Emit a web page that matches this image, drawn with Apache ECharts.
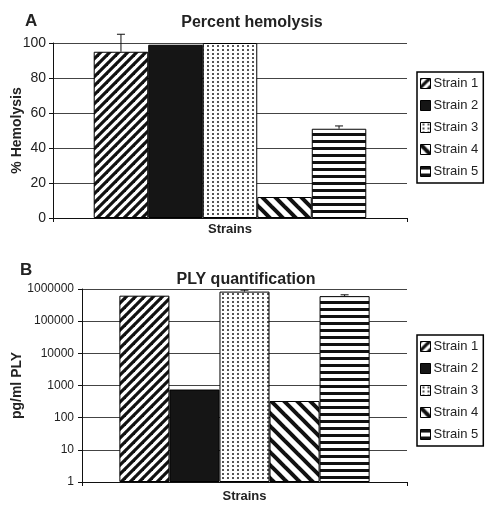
<!DOCTYPE html>
<html><head><meta charset="utf-8">
<script src="https://cdn.jsdelivr.net/npm/echarts@6/dist/echarts.min.js"></script>
<style>html,body{margin:0;padding:0;background:#fff}#c{width:487px;height:506px}</style>
</head><body><div id="c"></div>
<script>
const categories = ['Strains'];
const strainNames = ['Strain 1', 'Strain 2', 'Strain 3', 'Strain 4', 'Strain 5'];
const hemolysis = [95, 99, 100, 12, 51];
const hemolysisUpper = [105, null, null, null, 52.6];
const plyValues = [620000, 750, 830000, 330, 600000];
const plyUpper = [null, null, 920000, null, 660000];
const hemoTicks = [0, 20, 40, 60, 80, 100];
const plyTicks = [1, 10, 100, 1000, 10000, 100000, 1000000];

function makeCanvas(w, h, draw) {
  const c = document.createElement('canvas');
  c.width = w; c.height = h;
  const g = c.getContext('2d');
  g.fillStyle = '#fff'; g.fillRect(0, 0, w, h);
  draw(g, w, h);
  return c;
}
function diagUp(size, lw) {
  return makeCanvas(size, size, (g, w) => {
    g.strokeStyle = '#111'; g.lineWidth = lw;
    for (let k = -1; k <= 1; k++) {
      g.beginPath(); g.moveTo(k * w - 2, w + 2); g.lineTo(k * w + w + 2, -2); g.stroke();
    }
  });
}
function diagDown(size, lw) {
  return makeCanvas(size, size, (g, w) => {
    g.strokeStyle = '#111'; g.lineWidth = lw;
    for (let k = -1; k <= 1; k++) {
      g.beginPath(); g.moveTo(k * w - 2, -2); g.lineTo(k * w + w + 2, w + 2); g.stroke();
    }
  });
}
function dots() {
  return makeCanvas(5, 4, (g) => { g.fillStyle = '#555'; g.fillRect(2, 1, 2, 2); });
}
function hstripes() {
  return makeCanvas(8, 7, (g) => { g.fillStyle = '#111'; g.fillRect(0, 0, 8, 3); });
}
const fills = [
  { image: diagUp(9, 3.2), repeat: 'repeat' },
  '#151515',
  { image: dots(), repeat: 'repeat' },
  { image: diagDown(13, 4), repeat: 'repeat' },
  { image: hstripes(), repeat: 'repeat' }
];

const FONT = 'Liberation Sans, Arial, sans-serif';
const GAP = 0.23;

function barSeries(values, gi) {
  return values.map((v, i) => ({
    name: strainNames[i], type: 'bar', xAxisIndex: gi, yAxisIndex: gi,
    data: [v], barGap: '0%', barCategoryGap: (GAP * 100) + '%',
    itemStyle: { color: fills[i], borderColor: '#000', borderWidth: 1 },
    emphasis: { disabled: true }, animation: false
  }));
}
function errSeries(values, uppers, gi) {
  const data = [];
  values.forEach((v, i) => { if (uppers[i] != null) data.push([0, v, uppers[i], i]); });
  return {
    type: 'custom', xAxisIndex: gi, yAxisIndex: gi, clip: false, silent: true, animation: false,
    encode: { x: 0, y: [1, 2] }, data: data, z: 10,
    renderItem: function (params, api) {
      const idx = api.value(3);
      const base = api.coord([0, api.value(1)]);
      const top = api.coord([0, api.value(2)]);
      const band = api.size([1, 1])[0];
      const total = band * (1 - GAP);
      const bw = total / 5;
      const cx = base[0] - total / 2 + (idx + 0.5) * bw;
      return {
        type: 'group', children: [
          { type: 'line', shape: { x1: cx, y1: base[1], x2: cx, y2: top[1] }, style: { stroke: '#111', lineWidth: 1 } },
          { type: 'line', shape: { x1: cx - 4, y1: top[1], x2: cx + 4, y2: top[1] }, style: { stroke: '#111', lineWidth: 1 } }
        ]
      };
    }
  };
}

function legendCfg(top) {
  return {
    data: strainNames, orient: 'vertical', left: 417, top: top,
    itemWidth: 10, itemHeight: 10, itemGap: 9, padding: [5, 5, 5, 3],
    borderColor: '#000', borderWidth: 1.5, backgroundColor: '#fff',
    textStyle: { fontFamily: FONT, fontSize: 13, color: '#222', padding: [0, 0, 0, -2] },
    selectedMode: false, icon: 'rect', itemStyle: { borderColor: '#000', borderWidth: 1 }
  };
}

const chart = echarts.init(document.getElementById('c'), null, { renderer: 'canvas' });
chart.setOption({
  backgroundColor: '#fff',
  animation: false,
  title: [
    { text: 'Percent hemolysis', left: 247, top: 10, textAlign: 'center', textStyle: { fontFamily: FONT, fontSize: 16, fontWeight: 'bold', color: '#222' } },
    { text: 'PLY quantification', left: 241, top: 267, textAlign: 'center', textStyle: { fontFamily: FONT, fontSize: 16, fontWeight: 'bold', color: '#222' } },
    { text: 'A', left: 20, top: 8, textStyle: { fontFamily: FONT, fontSize: 17, fontWeight: 'bold', color: '#222' } },
    { text: 'B', left: 15, top: 257, textStyle: { fontFamily: FONT, fontSize: 17, fontWeight: 'bold', color: '#222' } }
  ],
  legend: [legendCfg(72), legendCfg(335)],
  grid: [
    { left: 53, right: 80, top: 43, bottom: 288, containLabel: false, outerBoundsMode: 'none' },
    { left: 82, right: 80, top: 289, bottom: 24, containLabel: false, outerBoundsMode: 'none' }
  ],
  xAxis: [0, 1].map(gi => ({
    type: 'category', gridIndex: gi, data: categories,
    axisLine: { lineStyle: { color: '#111', width: 1 } },
    axisTick: { show: true, alignWithLabel: false, length: 4, lineStyle: { color: '#111' } },
    axisLabel: { fontFamily: FONT, fontSize: 13, fontWeight: 'bold', color: '#222', margin: gi === 0 ? 5 : 8 }
  })),
  yAxis: [
    {
      type: 'value', gridIndex: 0, min: hemoTicks[0], max: hemoTicks[hemoTicks.length - 1], interval: 20,
      name: '% Hemolysis', nameLocation: 'middle', nameGap: 29, nameMoveOverlap: false,
      nameTextStyle: { fontFamily: FONT, fontSize: 14, fontWeight: 'bold', color: '#222' },
      axisLine: { show: true, lineStyle: { color: '#111' } },
      axisTick: { show: true, length: 4, lineStyle: { color: '#111' } },
      axisLabel: { fontFamily: FONT, fontSize: 14, color: '#222', margin: 7 },
      splitLine: { show: true, lineStyle: { color: '#444', width: 1 } }
    },
    {
      type: 'log', gridIndex: 1, logBase: 10, min: plyTicks[0], max: plyTicks[plyTicks.length - 1],
      name: 'pg/ml PLY', nameLocation: 'middle', nameGap: 58, nameMoveOverlap: false,
      nameTextStyle: { fontFamily: FONT, fontSize: 14, fontWeight: 'bold', color: '#222' },
      axisLine: { show: true, lineStyle: { color: '#111' } },
      axisTick: { show: true, length: 4, lineStyle: { color: '#111' } },
      axisLabel: { fontFamily: FONT, fontSize: 12, color: '#222', margin: 8, formatter: v => String(Math.round(v)) },
      splitLine: { show: true, lineStyle: { color: '#444', width: 1 } }
    }
  ],
  series: [].concat(
    barSeries(hemolysis, 0),
    [errSeries(hemolysis, hemolysisUpper, 0)],
    barSeries(plyValues, 1),
    [errSeries(plyValues, plyUpper, 1)]
  )
});
</script></body></html>
